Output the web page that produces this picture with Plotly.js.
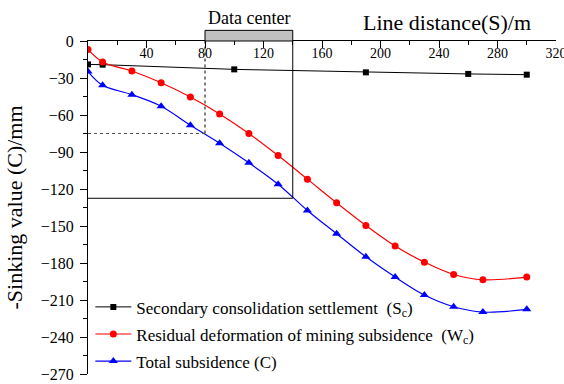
<!DOCTYPE html>
<html>
<head>
<meta charset="utf-8">
<script src="https://cdn.plot.ly/plotly-3.0.1.min.js"></script>
<style>html,body{margin:0;padding:0;background:#fff;}#chart{width:564px;height:384px;}</style>
</head>
<body>
<div id="chart"></div>
<script>
// Data
const secondaryX = [0, 10, 100, 190, 260, 300];
const secondaryY = [-19, -19.2, -23, -25.4, -26.7, -27.3];

const residualX = [0, 10, 30, 50, 70, 90, 110, 130, 150, 170, 190, 210, 230, 250, 270, 300];
const residualY = [-6.8, -17, -24.3, -33.8, -45.4, -59.1, -75, -92.9, -112, -131.2, -149.6, -166.3, -179.3, -189.3, -193.6, -191.4];

const totalX = [0, 10, 30, 50, 70, 90, 110, 130, 150, 170, 190, 210, 230, 250, 270, 300];
const totalY = [-24.8, -35.9, -43.5, -52.9, -68.3, -82.9, -98.8, -116.1, -137.4, -156.3, -175, -191.4, -206, -215.5, -219.8, -217.6];

const seriesNames = [
  'Secondary consolidation settlement \u00a0(S<sub>c</sub>)',
  'Residual deformation of mining subsidence \u00a0(W<sub>c</sub>)',
  'Total subsidence (C)'
];

const xTickVals = [40, 80, 120, 160, 200, 240, 280, 320];
const xMinorVals = [20, 60, 100, 140, 180, 220, 260, 300];
const yTickVals = [0, -30, -60, -90, -120, -150, -180, -210, -240, -270];

// reference guide values
const dataCenterStart = 80, dataCenterEnd = 140;
const guideDotY = -75, guideSolidY = -127.5;

const FONT = 'Liberation Serif';

const traces = [
  {x: secondaryX, y: secondaryY, name: seriesNames[0], mode: 'lines+markers', legendgroup: 'a',
   line: {color: '#000000', width: 1}, marker: {symbol: 'square', size: 6, color: '#000000'}},
  {x: residualX, y: residualY, name: seriesNames[1], mode: 'lines+markers', legendgroup: 'b',
   line: {color: '#ff0000', width: 1.2, shape: 'spline', smoothing: 1}, marker: {symbol: 'circle', size: 7, color: '#ff0000'}},
  {x: totalX, y: totalY, name: seriesNames[2], mode: 'lines+markers', legendgroup: 'c',
   line: {color: '#0000ff', width: 1.2, shape: 'spline', smoothing: 1}, marker: {symbol: 'triangle-up', size: 8, color: '#0000ff'}}
];

const layout = {
  width: 564, height: 384,
  margin: {l: 88, r: 8, t: 41, b: 10, autoexpand: false},
  paper_bgcolor: '#ffffff', plot_bgcolor: '#ffffff',
  font: {family: FONT, color: '#000000'},
  showlegend: true,
  legend: {x: 0.005, y: -0.016, xanchor: 'left', yanchor: 'bottom', bgcolor: 'rgba(0,0,0,0)',
           font: {family: FONT, size: 17, color: '#000'}, tracegroupgap: 2, traceorder: 'grouped', itemwidth: 36},
  xaxis: {
    side: 'top', range: [0, 320], showgrid: false, zeroline: false,
    showline: true, linecolor: '#000', linewidth: 1,
    tickmode: 'array', tickvals: xTickVals,
    ticks: 'inside', ticklen: 7, tickcolor: '#000', ticklabelposition: 'inside', ticklabeloverflow: 'allow',
    tickfont: {family: FONT, size: 14, color: '#000'},
    minor: {tickmode: 'array', tickvals: xMinorVals, ticks: 'inside', ticklen: 4, tickcolor: '#000'}
  },
  yaxis: {
    range: [-270, 0], showgrid: false, zeroline: false,
    showline: true, linecolor: '#000', linewidth: 1,
    tickmode: 'array', tickvals: yTickVals,
    ticks: 'outside', ticklen: 7, tickcolor: '#000', ticklabelstandoff: 3, ticklabeloverflow: 'allow',
    tickfont: {family: FONT, size: 16, color: '#000'},
    minor: {tickmode: 'linear', tick0: 0, dtick: 15, ticks: 'outside', ticklen: 4, tickcolor: '#000'},
    title: {text: '-Sinking value (C)/mm', font: {family: FONT, size: 22, color: '#000'}, standoff: 12}
  },
  shapes: [
    {type: 'rect', xref: 'x', yref: 'paper', x0: dataCenterStart, x1: dataCenterEnd, y0: 1, y1: 1.032,
     fillcolor: '#c0c0c0', line: {color: '#000', width: 1}},
    {type: 'line', xref: 'x', yref: 'y', x0: 0, x1: dataCenterStart, y0: guideDotY, y1: guideDotY,
     line: {color: '#555', width: 1, dash: 'dot'}},
    {type: 'line', xref: 'x', yref: 'y', x0: dataCenterStart, x1: dataCenterStart, y0: guideDotY, y1: 0,
     line: {color: '#000', width: 1, dash: 'dot'}},
    {type: 'line', xref: 'x', yref: 'y', x0: 0, x1: dataCenterEnd, y0: guideSolidY, y1: guideSolidY,
     line: {color: '#000', width: 1}},
    {type: 'line', xref: 'x', yref: 'y', x0: dataCenterEnd, x1: dataCenterEnd, y0: guideSolidY, y1: 0,
     line: {color: '#000', width: 1}}
  ],
  annotations: [
    {text: 'Data center', xref: 'x', yref: 'paper', x: 110, y: 1.068, xanchor: 'center', yanchor: 'middle',
     showarrow: false, font: {family: FONT, size: 18, color: '#000'}},
    {text: 'Line distance(S)/m', xref: 'paper', yref: 'paper', x: 0.95, y: 1.055, xanchor: 'right', yanchor: 'middle',
     showarrow: false, font: {family: FONT, size: 22, color: '#000'}}
  ]
};

Plotly.newPlot('chart', traces, layout, {displayModeBar: false, staticPlot: true});
</script>
</body>
</html>
